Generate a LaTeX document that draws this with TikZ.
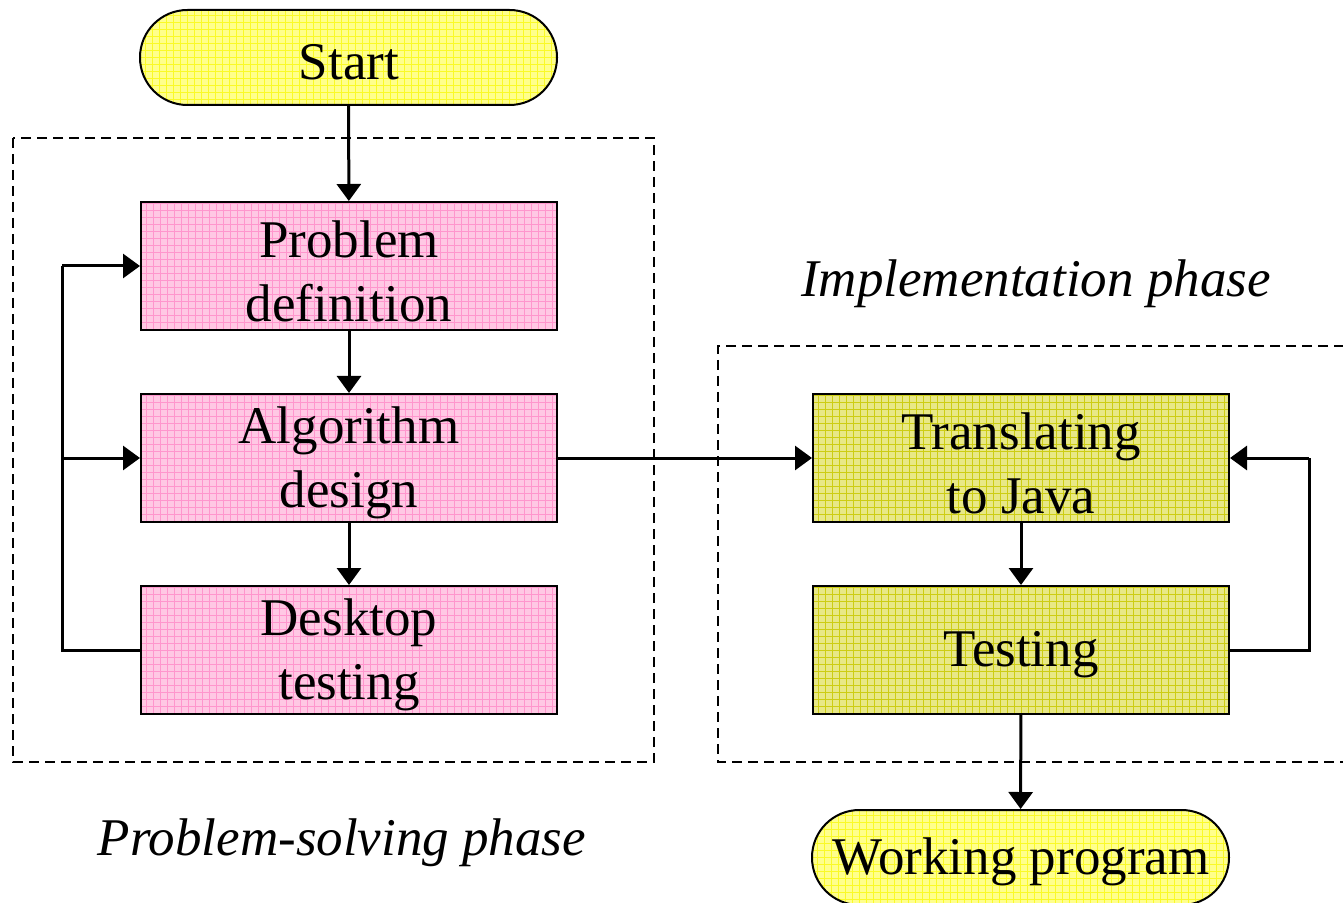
\documentclass[tikz,border=0pt]{standalone}
\usepackage{fontspec}
\setmainfont{Liberation Serif}
\usetikzlibrary{arrows.meta}
\definecolor{yelfill}{RGB}{255,255,140}
\definecolor{yelgrid}{RGB}{250,250,40}
\definecolor{pinkfill}{RGB}{255,200,228}
\definecolor{pinkgrid}{RGB}{255,150,205}
\definecolor{olivefill}{RGB}{232,232,135}
\definecolor{olivegrid}{RGB}{205,205,20}
\begin{document}
\begin{tikzpicture}[x=0.5pt,y=-0.5pt,
  txt/.style={font=\fontsize{26.5}{32}\selectfont, align=center, inner sep=0pt},
  gridfill/.style 2 args={fill=#1, path picture={\draw[#2,line width=0.35pt] (path picture bounding box.south west) grid[step=3.5pt] (path picture bounding box.north east);}},
  stadium/.style={draw, line width=1pt, gridfill={yelfill}{yelgrid}, minimum width=208.5pt, minimum height=47.5pt, rounded corners=23.7pt, inner sep=0pt},
  pinkbox/.style={draw, line width=1pt, gridfill={pinkfill}{pinkgrid}, minimum width=208pt, minimum height=64pt, inner sep=0pt},
  olivebox/.style={draw, line width=1pt, gridfill={olivefill}{olivegrid}, minimum width=208pt, minimum height=64pt, inner sep=0pt},
  conn/.style={line width=1.5pt, -{Triangle[length=8.5pt,width=12pt]}},
  plain/.style={line width=1.5pt},
  phase/.style={line width=0.75pt, dash pattern=on 5pt off 3pt},
  lbl/.style={font=\fontsize{26.5}{32}\selectfont\itshape, inner sep=0pt}
]
\useasboundingbox (0,0) rectangle (1343,903);
% dashed phase frames
\draw[phase] (13,138) rectangle (654,762);
\draw[phase] (1360,346) -- (718,346) -- (718,762) -- (1360,762);
% nodes
\node[stadium] (start) at (348.5,57.5) {};
\node[pinkbox] (pd) at (349,266) {};
\node[pinkbox] (ad) at (349,458) {};
\node[pinkbox] (dt) at (349,650) {};
\node[olivebox] (tj) at (1021,458) {};
\node[olivebox] (te) at (1021,650) {};
\node[stadium] (wp) at (1020.5,857.5) {};
% texts
\node[txt] (startT) at (349,62) {Start};
\node[txt] (pdT) at (349,271) {Problem\\definition};
\node[txt] (adT) at (349,463) {Algorithm\\design};
\node[txt] (dtT) at (349,655) {Desktop\\testing};
\node[txt] (tjT) at (1021,463) {Translating\\to Java};
\node[txt] (teT) at (1021,655) {Testing};
\node[txt] (wpT) at (1021,862) {Working program};
\node[lbl] (impl) at (1036,284) {Implementation phase};
\node[lbl] (psp) at (342,843) {Problem-solving phase};
% connectors
\coordinate (lx1) at (62,650);
\coordinate (lx2) at (62,458);
\coordinate (lx3) at (62,266);
\coordinate (rx1) at (1309,650);
\coordinate (rx2) at (1309,458);
\draw[conn] (start) -- (pd);
\draw[conn] (pd) -- (ad);
\draw[conn] (ad) -- (dt);
\draw[plain] (dt.west) -- (lx1) -- (lx3);
\draw[conn] (lx3) -- (pd.west);
\draw[conn] (lx2) -- (ad.west);
\draw[conn] (ad.east) -- (tj.west);
\draw[conn] (tj) -- (te);
\draw[plain] (te.east) -- (rx1) -- (rx2);
\draw[conn] (rx2) -- (tj.east);
\draw[conn] (te) -- (wp);
\end{tikzpicture}
\end{document}
